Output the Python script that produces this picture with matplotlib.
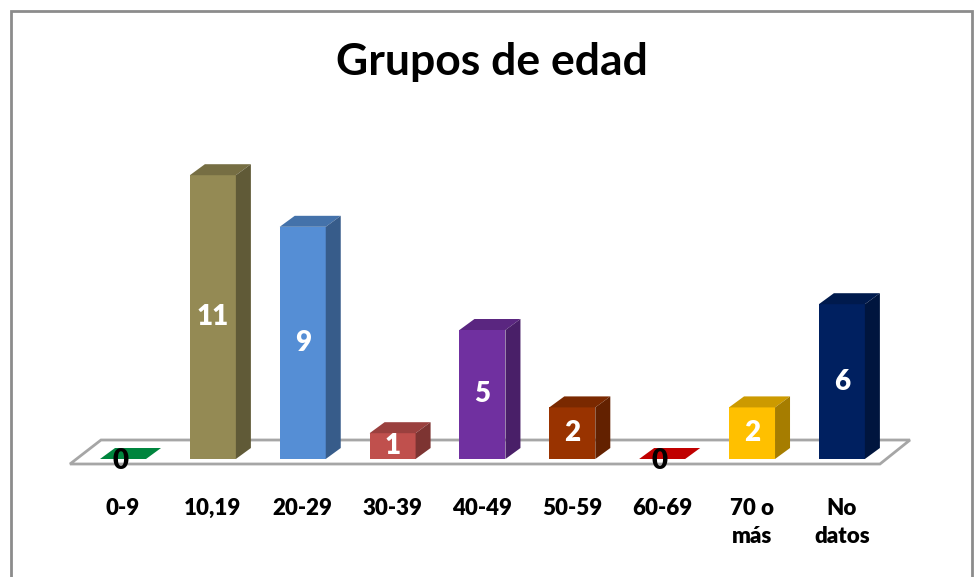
import numpy as np
import matplotlib.pyplot as plt
from matplotlib.patches import Polygon, Rectangle
from matplotlib.colors import to_rgb

# Data
categories = ["0-9", "10,19", "20-29", "30-39", "40-49", "50-59", "60-69", "70 o\nmás", "No\ndatos"]
values = [0, 11, 9, 1, 5, 2, 0, 2, 6]
colors = ["#00853E", "#948A54", "#558ED5", "#C0504D", "#7030A0",
          "#993300", "#C00000", "#FFC000", "#002060"]

plt.rcParams['font.family'] = ['Lato', 'DejaVu Sans']

fig = plt.figure(figsize=(9.79, 5.77), dpi=100)
ax = fig.add_axes([0, 0, 1, 1])
ax.set_xlim(-1.369, 9.526)
ax.set_ylim(-4.574, 17.791)
ax.axis('off')

# outer frame
fig.patches.append(Rectangle((11 / 979, -0.05), 961 / 979, 1 - 11 / 577 + 0.05,
                             transform=fig.transFigure, fill=False,
                             edgecolor='#8c8c8c', linewidth=2))

width = 0.512
dx, dy = 0.167, 0.426
n = len(categories)


def shade(c, f):
    r, g, b = to_rgb(c)
    return (r * f, g * f, b * f)


# floor
floor = Polygon([(-0.59, -0.194), (n - 1 + 0.424, -0.194),
                 (n - 1 + 0.758, 0.736), (-0.245, 0.736)],
                closed=True, facecolor='white', edgecolor='#a6a6a6', linewidth=2, zorder=1)
ax.add_patch(floor)

x = np.arange(n)
ax.bar(x, values, width=width, color=colors, zorder=3)

for i, (v, c) in enumerate(zip(values, colors)):
    left, right = i - width / 2, i + width / 2
    top = Polygon([(left, v), (right, v), (right + dx, v + dy), (left + dx, v + dy)],
                  closed=True, facecolor=shade(c, 0.8) if v > 0 else c,
                  edgecolor='none', zorder=3)
    ax.add_patch(top)
    if v > 0:
        side = Polygon([(right, 0), (right + dx, dy), (right + dx, v + dy), (right, v)],
                       closed=True, facecolor=shade(c, 0.65), edgecolor='none', zorder=3)
        ax.add_patch(side)
        ax.text(i, v / 2, str(v), ha='center', va='center', color='white',
                fontsize=20, fontweight='heavy', zorder=5)
    else:
        ax.text(i - 0.03, -0.08, str(v), ha='center', va='center', color='black',
                fontsize=20, fontweight='heavy', zorder=5)
    ax.text(i, -1.52, categories[i], ha='center', va='top', fontsize=16,
            fontweight='heavy', linespacing=1.4, zorder=5)

fig.text(492 / 979, 1 - 62 / 577, "Grupos de edad", ha='center', va='center',
         fontsize=32, fontweight='bold')

fig.savefig("out.png", dpi=100)
